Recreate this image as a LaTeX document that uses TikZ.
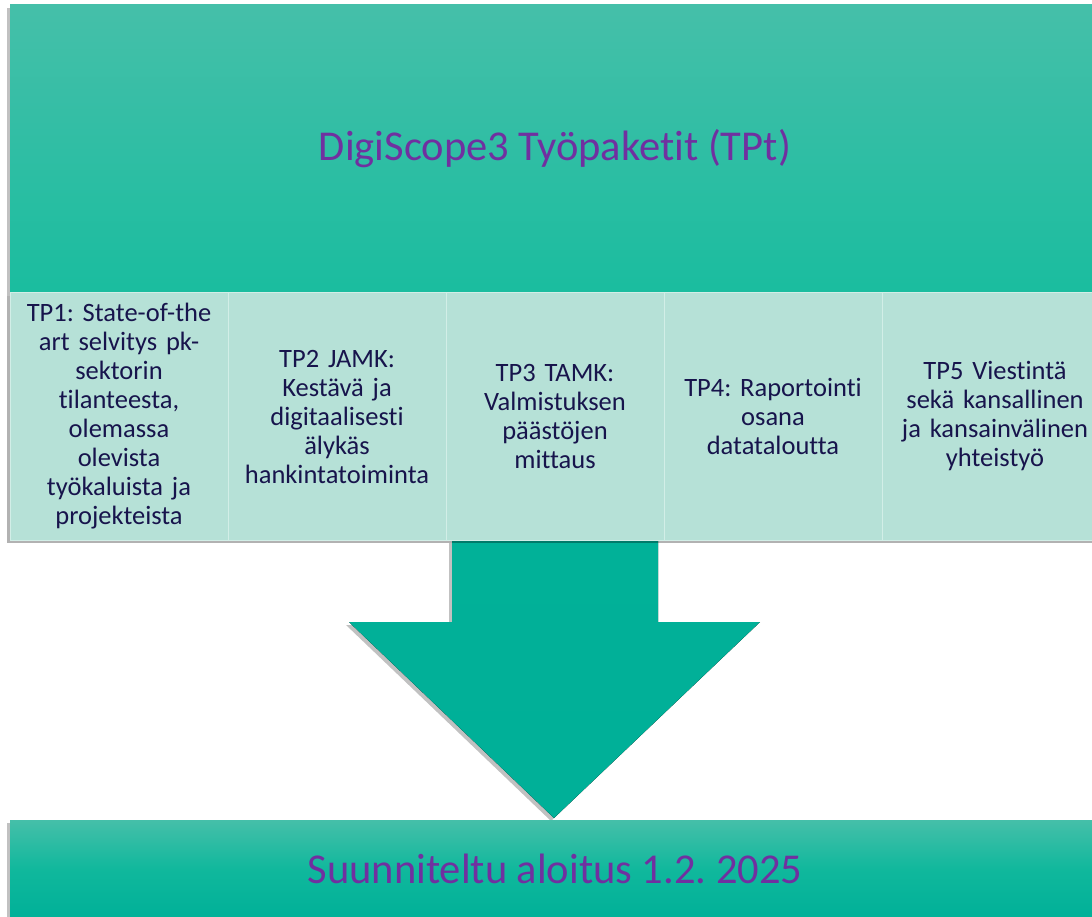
\documentclass[tikz,border=0pt]{standalone}
\usepackage{fontspec}
\setmainfont{Carlito}[Ligatures={NoCommon}]
\frenchspacing
\usetikzlibrary{positioning,shadows}
\definecolor{tealtop}{HTML}{45BFA9}
\definecolor{tealmid}{HTML}{1ABD9F}
\definecolor{tealdark}{HTML}{00B098}
\definecolor{cellfill}{HTML}{B6E1D7}
\definecolor{cellline}{HTML}{D2EEE7}
\definecolor{titlepurple}{HTML}{7030A0}
\definecolor{cellnavy}{HTML}{17144C}

\tikzset{
  boxshadow/.style = {drop shadow = {shadow xshift=-3pt, shadow yshift=-3pt, opacity=0.35, fill=black!70}},
  headbox/.style = {rectangle, inner sep=0pt, outer sep=0pt, top color=tealtop, bottom color=tealmid,
    text=titlepurple, font=\fontsize{42.5}{50}\selectfont, boxshadow},
  cellbox/.style = {rectangle, inner sep=0pt, outer sep=0pt, fill=cellfill, draw=cellline, line width=1pt,
    minimum width=218pt, minimum height=247pt, text width=210pt, align=center,
    text=cellnavy, font=\fontsize{26.5}{29}\selectfont},
  startbox/.style = {rectangle, inner sep=0pt, outer sep=0pt, top color=tealtop, bottom color=tealdark,
    middle color=tealmid!60!tealdark, text=titlepurple, font=\fontsize{42.5}{50}\selectfont, boxshadow}
}

\begin{document}
\begin{tikzpicture}[x=1pt, y=-1pt]
\useasboundingbox (0,0) rectangle (1092,917);

% arrow between the work packages and the start
\coordinate (sl) at (452,540);
\coordinate (sr) at (658,540);
\coordinate (nl) at (452,622);
\coordinate (nr) at (658,622);
\coordinate (hl) at (349,622);
\coordinate (hr) at (760,622);
\coordinate (tip) at (554,818);
\fill[top color=tealdark!95!tealmid, bottom color=tealdark, boxshadow]
  (sl) -- (sr) -- (nr) -- (hr) -- (tip) -- (hl) -- (nl) -- cycle;

\node[headbox, anchor=north west, minimum width=1090pt, minimum height=288pt] (head) at (10,5)
  {\raisebox{-3pt}{DigiScope3 Työpaketit (TPt)}};

\fill[black, opacity=0.3] (7,296) rectangle (1092,543);
\node[cellbox, anchor=north west] (tp1) at (head.south west)
  {TP1: State-of-the\\art selvitys pk-\\sektorin\\tilanteesta,\\olemassa\\olevista\\työkaluista ja\\projekteista};
\node[cellbox, right=0pt of tp1] (tp2)
  {TP2 JAMK:\\Kestävä ja\\digitaalisesti\\älykäs\\hankintatoiminta};
\node[cellbox, right=0pt of tp2] (tp3)
  {TP3 TAMK:\\Valmistuksen\\päästöjen\\mittaus};
\node[cellbox, right=0pt of tp3] (tp4)
  {TP4: Raportointi\\osana\\datataloutta};
\node[cellbox, right=0pt of tp4, minimum width=226pt, text width=220pt] (tp5)
  {TP5 Viestintä\\sekä kansallinen\\ja kansainvälinen\\yhteistyö};

\node[startbox, anchor=north west, minimum width=1090pt, minimum height=100pt, text depth=0pt] (start) at (10,820)
  {\raisebox{2pt}{Suunniteltu aloitus 1.2. 2025}};
\end{tikzpicture}
\end{document}
